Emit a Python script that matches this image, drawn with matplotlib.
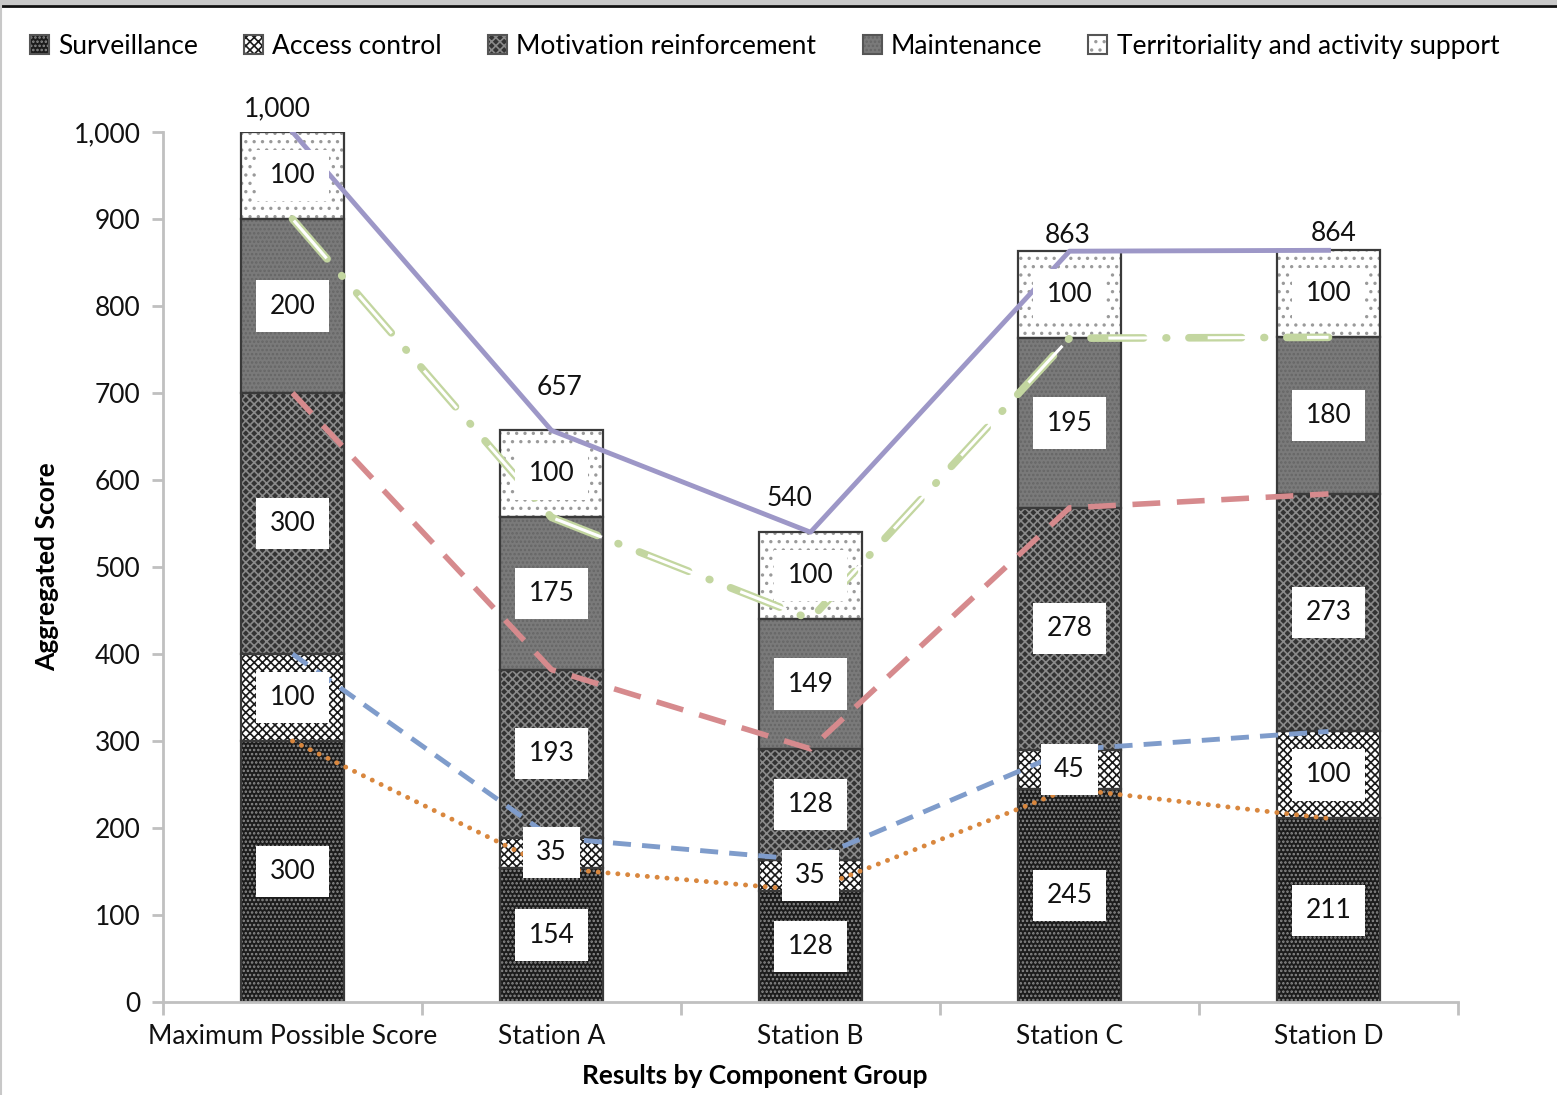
import numpy as np
import matplotlib.pyplot as plt
from matplotlib.patches import Patch, Rectangle
from matplotlib.lines import Line2D

plt.rcParams['font.family'] = ['Lato', 'DejaVu Sans']
plt.rcParams['hatch.linewidth'] = 1.2
plt.rcParams['lines.scale_dashes'] = False

# scores per component group
groups = ['Maximum Possible Score', 'Station A', 'Station B', 'Station C', 'Station D']
components = ['Surveillance', 'Access control', 'Motivation reinforcement',
              'Maintenance', 'Territoriality and activity support']
surveillance = [300, 154, 128, 245, 211]
access_control = [100, 35, 35, 45, 100]
motivation = [300, 193, 128, 278, 273]
maintenance = [200, 175, 149, 195, 180]
territoriality = [100, 100, 100, 100, 100]

series = [surveillance, access_control, motivation, maintenance, territoriality]

# fill / hatch per component
faces = ['#1c1c1c', '#ffffff', '#333333', '#7a7a7a', '#ffffff']
hatches = ['....', 'xxxx', 'xxxx', '....', '..']
hatch_cols = ['#8c8c8c', '#1a1a1a', '#8a8a8a', '#666666', '#9a9a9a']

FS = 19
fig = plt.figure(figsize=(15.57, 10.95), dpi=100)
ax = fig.add_axes([163 / 1557, 93 / 1095, 1295 / 1557, 870 / 1095])

x = np.arange(len(groups))
width = 0.40
bottom = np.zeros(len(groups))
tops = []
for vals, fc, h, hc in zip(series, faces, hatches, hatch_cols):
    vals = np.array(vals)
    ax.bar(x, vals, width, bottom=bottom, color=fc, hatch=h, edgecolor=hc,
           linewidth=0, zorder=2)
    ax.bar(x, vals, width, bottom=bottom, fill=False, edgecolor='#3a3a3a',
           linewidth=1.6, zorder=2.5)
    for xi, b, v in zip(x, bottom, vals):
        ax.text(xi, b + v / 2, str(v), ha='center', va='center', fontsize=FS,
                color='#111111', zorder=5,
                bbox=dict(boxstyle='square,pad=0.5', fc='white', ec='none'))
    bottom = bottom + vals
    tops.append(bottom.copy())

# totals above each bar, nudged clear of the lines
nudges = [(-11, 8), (6, 22), (-15, 15), (-1, 2), (4, 3)]
for xi, t, (dx, dy) in zip(x, bottom, nudges):
    ax.annotate(f'{int(t):,}', (xi, t), xytext=(dx, dy),
                textcoords='offset points', ha='center', va='bottom',
                fontsize=FS, color='#111111', zorder=5)

# trend lines through the cumulative tops
ax.plot(x, tops[0], color='#d9873e', lw=3.5, ls=(0, (0.1, 7)),
        dash_capstyle='round', zorder=3)
ax.plot(x, tops[1], color='#7f9ccb', lw=3.5, ls=(0, (13, 8)), zorder=3)
ax.plot(x, tops[2], color='#d68a8d', lw=4, ls=(0, (20, 12)), zorder=3)
ax.plot(x, tops[3], color='#c3d6a0', lw=5.5, ls=(0, (38, 16, 0.5, 16)),
        dash_capstyle='round', zorder=3)
ax.plot(x, tops[3], color='white', lw=2.2, ls=(70, (36, 35.5)),
        dash_capstyle='butt', zorder=3.1)
ax.plot(x, tops[4], color='#9d97c7', lw=3.5, zorder=3)

ax.set_xlim(-0.5, len(groups) - 0.5)
ax.set_ylim(0, 1000)
ax.set_yticks(np.arange(0, 1001, 100))
ax.set_yticklabels([f'{v:,}' for v in range(0, 1001, 100)])
ax.set_xticks(x)
ax.set_xticklabels(groups)
ax.set_xticks(np.arange(-0.5, len(groups), 1), minor=True)
ax.tick_params(axis='x', which='major', length=0, pad=16, labelsize=FS,
               labelcolor='#111111')
ax.tick_params(axis='x', which='minor', length=9, width=2, color='#c0c0c0')
ax.tick_params(axis='y', length=8, width=2, color='#c0c0c0', pad=8,
               labelsize=FS, labelcolor='#111111')
for s in ['top', 'right']:
    ax.spines[s].set_visible(False)
for s in ['left', 'bottom']:
    ax.spines[s].set_color('#c0c0c0')
    ax.spines[s].set_linewidth(2)

ax.set_ylabel('Aggregated Score', fontsize=FS, fontweight='bold')
ax.yaxis.set_label_coords(-104 / 1295, 0.5)
ax.set_xlabel('Results by Component Group', fontsize=FS, fontweight='bold')
ax.xaxis.set_label_coords(0.457, -62 / 870)

# legend keys: hatched square plus a dark outline on top
handles = [(Patch(facecolor=fc, hatch=h, edgecolor=hc, linewidth=0),
            Patch(fill=False, edgecolor='#555555', linewidth=1.5))
           for fc, h, hc in zip(faces, hatches, hatch_cols)]
fig.legend(handles, components, loc='upper left', ncol=5,
           bbox_to_anchor=(6 / 1557, 1 - 10 / 1095), frameon=False,
           fontsize=FS, handlelength=0.72, handleheight=0.72,
           handletextpad=0.35, columnspacing=1.75)

# window frame
fig.add_artist(Rectangle((0, 1 - 5 / 1095), 1, 5 / 1095,
                         transform=fig.transFigure, fc='#c8c8c8', ec='none'))
fig.add_artist(Line2D([0, 1], [1 - 6 / 1095] * 2, transform=fig.transFigure,
                      color='#111111', lw=2))
fig.add_artist(Line2D([1 / 1557] * 2, [0, 1], transform=fig.transFigure,
                      color='#c8c8c8', lw=1.5))

fig.savefig('out.png', dpi=100)
